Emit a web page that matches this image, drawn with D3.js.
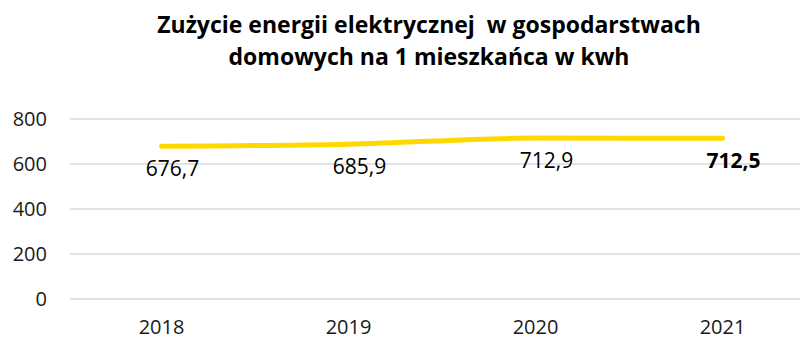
<!DOCTYPE html>
<html lang="pl">
<head>
<meta charset="utf-8">
<script src="https://cdn.jsdelivr.net/npm/d3@7"></script>
<style>
  html, body { margin: 0; padding: 0; background: #fff; }
  svg { display: block; font-family: "Open Sans", "Noto Sans", sans-serif; }
</style>
</head>
<body>
<svg id="chart" width="800" height="340"></svg>
<script>
// Zużycie energii elektrycznej na 1 mieszkańca (kWh)
const years = ["2018", "2019", "2020", "2021"];
const usage = [676.7, 685.9, 712.9, 712.5];
const yTicks = [0, 200, 400, 600, 800];
const titleLines = [
  "Zużycie energii elektrycznej  w gospodarstwach",
  "domowych na 1 mieszkańca w kwh"
];

const svg = d3.select("#chart");
const W = 800, H = 340;

const x = d3.scaleBand().domain(years).range([68, 816]);
const y = d3.scaleLinear().domain([0, 800]).range([298.5, 118.5]);
const cx = d => x(d) + x.bandwidth() / 2;

// title
svg.append("g")
  .selectAll("text")
  .data(titleLines)
  .join("text")
  .attr("x", 429)
  .attr("y", (d, i) => 33 + i * 32)
  .attr("text-anchor", "middle")
  .attr("font-size", 23)
  .attr("font-weight", 700)
  .attr("fill", "#000")
  .style("white-space", "pre")
  .text(d => d);

// gridlines
const yAxis = d3.axisLeft(y)
  .tickValues(yTicks)
  .tickSize(-(W - 70))
  .tickPadding(23)
  .tickFormat(d3.format("d"));

const gy = svg.append("g")
  .attr("transform", "translate(70,0)")
  .call(yAxis);
gy.select(".domain").remove();
gy.selectAll(".tick line").attr("stroke", "#d9d9d9").attr("stroke-width", 1.4);
gy.selectAll(".tick text")
  .attr("font-size", 20)
  .attr("fill", "#1a1a1a")
  .attr("font-family", "Open Sans, sans-serif")
  .attr("dy", "0.35em");

// category axis
const xAxis = d3.axisBottom(x).tickSize(0).tickPadding(0);
const gx = svg.append("g")
  .attr("transform", "translate(0,334)")
  .call(xAxis);
gx.select(".domain").remove();
gx.selectAll(".tick text")
  .attr("font-size", 20)
  .attr("fill", "#1a1a1a")
  .attr("font-family", "Open Sans, sans-serif")
  .attr("dy", 0);

// line
const pts = years.map((yr, i) => ({ yr, v: usage[i] }));
const line = d3.line()
  .x(d => cx(d.yr))
  .y(d => y(d.v))
  .curve(d3.curveMonotoneX);

svg.append("path")
  .datum(pts)
  .attr("d", line)
  .attr("fill", "none")
  .attr("stroke", "#ffd800")
  .attr("stroke-width", 5)
  .attr("stroke-linecap", "round")
  .attr("stroke-linejoin", "round");

// value labels
const fmt = v => d3.format(".1f")(v).replace(".", ",");
svg.append("g")
  .selectAll("text")
  .data(pts)
  .join("text")
  .attr("x", d => cx(d.yr) + 11)
  .attr("y", d => y(d.v) + 30)
  .attr("text-anchor", "middle")
  .attr("font-size", 21)
  .attr("font-weight", (d, i) => i === pts.length - 1 ? 700 : 400)
  .attr("fill", "#000")
  .text(d => fmt(d.v));
</script>
</body>
</html>
